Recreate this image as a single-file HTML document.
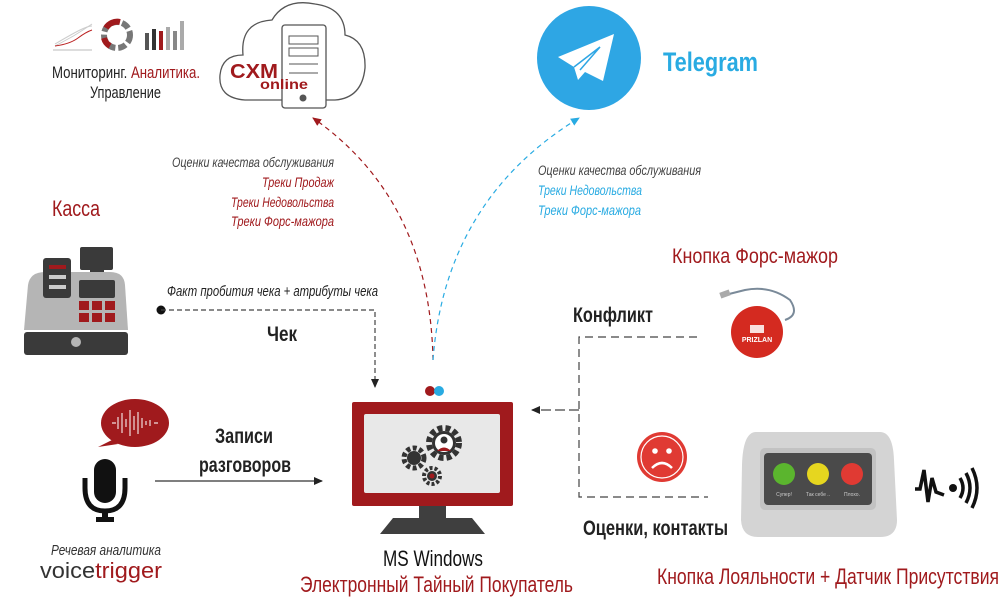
<!DOCTYPE html>
<html><head><meta charset="utf-8"><style>
html,body{margin:0;padding:0;background:#fff;}
svg{display:block;}
.t{font-family:"Liberation Sans Narrow","Liberation Sans",sans-serif;}
</style></head><body>
<svg width="1000" height="603" viewBox="0 0 1000 603" xmlns="http://www.w3.org/2000/svg" class="t">
<defs>
<marker id="ar" markerWidth="10" markerHeight="10" refX="8" refY="5" orient="auto" markerUnits="userSpaceOnUse"><path d="M0,1 L9,5 L0,9 Z" fill="#a01a1d"/></marker>
<marker id="ab" markerWidth="10" markerHeight="10" refX="8" refY="5" orient="auto" markerUnits="userSpaceOnUse"><path d="M0,1 L9,5 L0,9 Z" fill="#29abe2"/></marker>
<marker id="ak" markerWidth="10" markerHeight="10" refX="8" refY="5" orient="auto" markerUnits="userSpaceOnUse"><path d="M0,1 L9,5 L0,9 Z" fill="#222"/></marker>
</defs>

<!-- top-left icons -->
<g fill="none" stroke-width="1">
<path d="M53,50 L92,50" stroke="#bbb"/>
<path d="M55,46 Q70,38 75,35 T92,24" stroke="#ccc"/>
<path d="M55,44 Q72,34 80,30 T92,26" stroke="#ccc"/>
<path d="M55,46 Q70,44 78,38 T92,30" stroke="#b22"/>
</g>
<circle cx="117" cy="35" r="13" fill="none" stroke="#777" stroke-width="6" stroke-dasharray="8 3"/>
<path d="M106,28 A13,13 0 0 1 120,22" fill="none" stroke="#a01a1d" stroke-width="6"/>
<path d="M104,38 A13,13 0 0 0 110,46" fill="none" stroke="#a01a1d" stroke-width="6"/>
<g fill="#555"><rect x="145" y="33" width="4" height="17"/><rect x="152" y="29" width="4" height="21" fill="#333"/><rect x="159" y="31" width="4" height="19" fill="#a01a1d"/><rect x="166" y="27" width="4" height="23" fill="#aaa"/><rect x="173" y="31" width="4" height="19" fill="#888"/><rect x="180" y="21" width="4" height="29" fill="#aaa"/></g>
<text x="52" y="78" font-size="17" fill="#222" textLength="148" lengthAdjust="spacingAndGlyphs">Мониторинг. <tspan fill="#a01a1d">Аналитика.</tspan></text>
<text x="90" y="98" font-size="17" fill="#222" textLength="71" lengthAdjust="spacingAndGlyphs">Управление</text>

<!-- cloud -->
<path d="M245,100 Q218,98 220,75 Q222,55 243,55 Q240,22 272,20 Q285,-2 315,4 Q345,8 345,35 Q366,40 365,68 Q362,98 335,100 Z" fill="#fff" stroke="#555" stroke-width="1.3"/>
<rect x="282" y="25" width="44" height="83" rx="3" fill="#fff" stroke="#555" stroke-width="1.3"/>
<rect x="289" y="36" width="29" height="8" fill="none" stroke="#555"/>
<rect x="289" y="48" width="29" height="8" fill="none" stroke="#555"/>
<line x1="289" y1="64" x2="318" y2="64" stroke="#555"/>
<line x1="289" y1="73" x2="318" y2="73" stroke="#555"/>
<circle cx="303" cy="98" r="3.5" fill="#555"/>
<text x="230" y="78" font-size="20" font-weight="bold" fill="#a01a1d" font-family="Liberation Sans, sans-serif" textLength="48" lengthAdjust="spacingAndGlyphs">CXM</text>
<text x="260" y="89" font-size="14" font-weight="bold" fill="#a01a1d" font-family="Liberation Sans, sans-serif" textLength="48" lengthAdjust="spacingAndGlyphs">online</text>

<!-- Telegram -->
<circle cx="589" cy="58" r="52" fill="#2ea6e4"/>
<path d="M558,57 L614,34 L603,81 L585,72 L578,80 L574,67 Z" fill="#fff"/>
<path d="M574,67 L600,47 L580,70" fill="none" stroke="#2ea6e4" stroke-width="1.5"/>
<text x="663" y="71" font-size="27" font-weight="bold" fill="#29abe2" textLength="95" lengthAdjust="spacingAndGlyphs">Telegram</text>

<!-- curves -->
<path d="M433,360 Q430,200 313,118" fill="none" stroke="#a01a1d" stroke-width="1.2" stroke-dasharray="5 4" marker-end="url(#ar)"/>
<path d="M433,360 Q445,200 579,118" fill="none" stroke="#29abe2" stroke-width="1.2" stroke-dasharray="5 4" marker-end="url(#ab)"/>

<g font-size="14" font-style="italic" lengthAdjust="spacingAndGlyphs">
<text x="172" y="167" fill="#444" textLength="162" lengthAdjust="spacingAndGlyphs">Оценки качества обслуживания</text>
<text x="262" y="187" fill="#a01a1d" textLength="72" lengthAdjust="spacingAndGlyphs">Треки Продаж</text>
<text x="231" y="207" fill="#a01a1d" textLength="103" lengthAdjust="spacingAndGlyphs">Треки Недовольства</text>
<text x="231" y="226" fill="#a01a1d" textLength="103" lengthAdjust="spacingAndGlyphs">Треки Форс-мажора</text>
</g>
<g font-size="14" font-style="italic">
<text x="538" y="175" fill="#444" textLength="163" lengthAdjust="spacingAndGlyphs">Оценки качества обслуживания</text>
<text x="538" y="195" fill="#29abe2" textLength="104" lengthAdjust="spacingAndGlyphs">Треки Недовольства</text>
<text x="538" y="215" fill="#29abe2" textLength="103" lengthAdjust="spacingAndGlyphs">Треки Форс-мажора</text>
</g>

<text x="52" y="216" font-size="22" fill="#a01a1d" textLength="48" lengthAdjust="spacingAndGlyphs">Касса</text>

<!-- cash register -->
<rect x="80" y="247" width="33" height="23" rx="2" fill="#3a3a3a"/>
<rect x="90" y="270" width="14" height="5" fill="#3a3a3a"/>
<path d="M24,330 L28,285 Q30,272 45,272 L110,272 Q124,272 125,285 L128,330 Z" fill="#b5b5b5"/>
<rect x="43" y="258" width="28" height="40" rx="3" fill="#3a3a3a"/>
<rect x="49" y="265" width="17" height="4" fill="#a01a1d"/><rect x="49" y="275" width="17" height="4" fill="#ccc"/><rect x="49" y="285" width="17" height="4" fill="#ccc"/>
<rect x="79" y="280" width="36" height="18" rx="2" fill="#3a3a3a"/>
<g fill="#a01a1d"><rect x="79" y="301" width="10" height="9"/><rect x="92" y="301" width="10" height="9"/><rect x="105" y="301" width="10" height="9"/><rect x="79" y="313" width="10" height="9"/><rect x="92" y="313" width="10" height="9"/><rect x="105" y="313" width="10" height="9"/></g>
<rect x="24" y="332" width="104" height="23" rx="3" fill="#3a3a3a"/>
<circle cx="76" cy="342" r="5" fill="#b5b5b5"/>

<circle cx="161" cy="310" r="4.5" fill="#111"/>
<path d="M161,310 L375,310 L375,387" fill="none" stroke="#444" stroke-width="1.2" stroke-dasharray="5 3" marker-end="url(#ak)"/>
<text x="167" y="296" font-size="15" font-style="italic" fill="#222" textLength="211" lengthAdjust="spacingAndGlyphs">Факт пробития чека + атрибуты чека</text>
<text x="267" y="341" font-size="21" font-weight="bold" fill="#222" textLength="30" lengthAdjust="spacingAndGlyphs">Чек</text>

<circle cx="430" cy="391" r="5" fill="#a01a1d"/><circle cx="439" cy="391" r="5" fill="#29abe2"/>

<!-- monitor -->
<rect x="352" y="402" width="161" height="104" rx="2" fill="#a01a1d"/>
<rect x="364" y="414" width="136" height="79" rx="2" fill="#e8e8e8"/>
<rect x="419" y="506" width="27" height="12" fill="#3f3f3f"/>
<path d="M393,518 L472,518 L485,534 L380,534 Z" fill="#3f3f3f"/>
<circle cx="444" cy="443" r="15" fill="none" stroke="#333" stroke-width="6" stroke-dasharray="5 3"/>
<circle cx="444" cy="443" r="12" fill="#333"/><circle cx="444" cy="443" r="9" fill="#fff"/>
<circle cx="444" cy="440" r="3.5" fill="#333"/><path d="M437,451 Q444,444 451,451 Z" fill="#a01a1d"/>
<circle cx="414" cy="458" r="10" fill="none" stroke="#333" stroke-width="5" stroke-dasharray="4 2.5"/><circle cx="414" cy="458" r="7" fill="#333"/>
<circle cx="432" cy="476" r="8" fill="none" stroke="#333" stroke-width="4" stroke-dasharray="3 2"/><circle cx="432" cy="476" r="5" fill="#333"/>
<circle cx="432" cy="476" r="2.5" fill="#a01a1d"/>
<text x="383" y="566" font-size="22" fill="#111" textLength="100" lengthAdjust="spacingAndGlyphs">MS Windows</text>
<text x="300" y="592" font-size="22" fill="#a01a1d" textLength="273" lengthAdjust="spacingAndGlyphs">Электронный Тайный Покупатель</text>

<!-- voice -->
<ellipse cx="135" cy="423" rx="34" ry="24" fill="#a01a1d"/>
<path d="M112,440 L98,447 L118,444 Z" fill="#a01a1d"/>
<path d="M112,423 L116,423 M118,417 L118,429 M122,413 L122,433 M126,419 L126,427 M130,410 L130,436 M134,416 L134,430 M138,412 L138,434 M142,418 L142,428 M146,421 L146,425 M150,420 L150,426 M154,423 L158,423" stroke="#fff" stroke-width="1.2" opacity=".85"/>
<rect x="94" y="459" width="22" height="44" rx="11" fill="#111"/>
<path d="M85,478 L85,488 Q85,511 105,511 Q125,511 125,488 L125,478" fill="none" stroke="#111" stroke-width="5"/>
<rect x="102" y="510" width="6" height="9" fill="#111"/><rect x="96" y="517" width="18" height="5" fill="#111"/>
<text x="215" y="443" font-size="21" font-weight="bold" fill="#222" textLength="58" lengthAdjust="spacingAndGlyphs">Записи</text>
<text x="199" y="472" font-size="21" font-weight="bold" fill="#222" textLength="92" lengthAdjust="spacingAndGlyphs">разговоров</text>
<line x1="155" y1="481" x2="322" y2="481" stroke="#333" stroke-width="1.2" marker-end="url(#ak)"/>
<text x="51" y="555" font-size="15" font-style="italic" fill="#333" textLength="110" lengthAdjust="spacingAndGlyphs">Речевая аналитика</text>
<text x="40" y="578" font-size="22" fill="#333" font-family="Liberation Sans, sans-serif" textLength="122" lengthAdjust="spacingAndGlyphs">voice<tspan fill="#a01a1d">trigger</tspan></text>

<!-- right -->
<text x="672" y="263" font-size="21" fill="#a01a1d" textLength="166" lengthAdjust="spacingAndGlyphs">Кнопка Форс-мажор</text>
<path d="M725,295 L745,290 Q770,285 790,300 Q800,315 785,320" fill="none" stroke="#7a8a99" stroke-width="2"/>
<rect x="720" y="291" width="10" height="6" fill="#aaa" transform="rotate(-20 725 294)"/>
<circle cx="757" cy="332" r="26" fill="#d42a20"/>
<text x="757" y="342" font-size="7" font-weight="bold" text-anchor="middle" fill="#fff">PRIZLAN</text>
<path d="M750,325 L764,325 L764,333 L750,333 Z" fill="#fff" opacity=".85"/>
<text x="573" y="322" font-size="21" font-weight="bold" fill="#222" textLength="80" lengthAdjust="spacingAndGlyphs">Конфликт</text>
<path d="M697,337 L579,337 L579,497 L708,497" fill="none" stroke="#444" stroke-width="1.2" stroke-dasharray="8 5"/>
<line x1="579" y1="410" x2="532" y2="410" stroke="#444" stroke-width="1.2" stroke-dasharray="10 4" marker-end="url(#ak)"/>
<circle cx="662" cy="457" r="25" fill="#e03a33"/>
<circle cx="662" cy="457" r="21" fill="none" stroke="#fff" stroke-width="1.2"/>
<circle cx="655" cy="451" r="2.8" fill="#fff"/><circle cx="669" cy="451" r="2.8" fill="#fff"/>
<path d="M652,468 Q662,458 672,468" fill="none" stroke="#fff" stroke-width="2.5"/>

<path d="M756,432 L880,432 Q893,432 894,460 L897,520 Q897,537 880,537 L758,537 Q742,537 741,520 L742,465 Q743,432 756,432 Z" fill="#d4d4d4"/>
<rect x="760" y="448" width="116" height="62" rx="5" fill="#c2c2c2"/>
<rect x="764" y="453" width="108" height="52" rx="4" fill="#4a4a4a"/>
<circle cx="784" cy="474" r="11" fill="#5bb52e"/><circle cx="818" cy="474" r="11" fill="#e6d61f"/><circle cx="852" cy="474" r="11" fill="#e03a33"/>
<g font-size="5" fill="#ccc" text-anchor="middle"><text x="784" y="496">Супер!</text><text x="818" y="496">Так себе ..</text><text x="852" y="496">Плохо.</text></g>
<path d="M915,489 L920,489 L924,470 L928,502 L932,478 L936,492 L944,495" fill="none" stroke="#111" stroke-width="3.5"/>
<circle cx="953" cy="488" r="4" fill="#111"/>
<path d="M960,478 Q966,488 960,498 M966,473 Q974,488 966,503 M972,468 Q982,488 972,508" fill="none" stroke="#111" stroke-width="3.5"/>
<text x="583" y="535" font-size="21" font-weight="bold" fill="#222" textLength="145" lengthAdjust="spacingAndGlyphs">Оценки, контакты</text>
<text x="657" y="584" font-size="22" fill="#a01a1d" textLength="342" lengthAdjust="spacingAndGlyphs">Кнопка Лояльности + Датчик Присутствия</text>
</svg>
</body></html>
